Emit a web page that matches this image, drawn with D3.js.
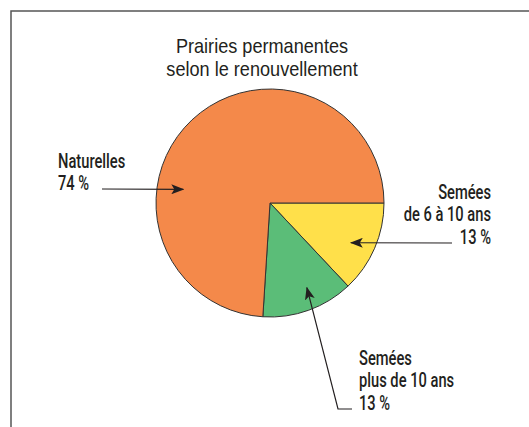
<!DOCTYPE html>
<html>
<head>
<meta charset="utf-8">
<script src="https://cdn.jsdelivr.net/npm/d3@7"></script>
<style>
  body { margin: 0; background: #fff; }
  svg { display: block; }
  .title { font-family: "Liberation Sans", Arial, sans-serif; font-size: 19.5px; fill: #231f20; }
  .label { font-family: Roboto, "Liberation Sans", Arial, sans-serif; font-weight: 500; font-size: 21px; fill: #231f20; }
</style>
</head>
<body>
<div id="chart"></div>
<script>
const categories = ['Semées de 6 à 10 ans', 'Semées plus de 10 ans', 'Naturelles']
const shares = [13, 13, 74]
const labelLines = [
    ['Semées', 'de 6 à 10 ans', '13 %'],
    ['Semées', 'plus de 10 ans', '13 %'],
    ['Naturelles', '74 %']
]
const titleLines = ['Prairies permanentes', 'selon le renouvellement']

document.addEventListener('DOMContentLoaded', () => {
    const width = 529
    const height = 427
    const cx = 270
    const cy = 203
    const radius = 114

    const svg = d3.select('#chart')
        .append('svg')
        .attr('width', width)
        .attr('height', height)

    // frame (open at the right and bottom, as in the print)
    svg.append('path')
        .attr('d', `M11,${height} V11 H${width}`)
        .attr('fill', 'none')
        .attr('stroke', '#555')
        .attr('stroke-width', 1.5)

    svg.append('g')
        .attr('transform', `translate(262, 0) scale(0.93, 1)`)
        .selectAll('text')
        .data(titleLines)
        .enter()
        .append('text')
        .attr('class', 'title')
        .attr('x', 0)
        .attr('y', (d, i) => 53 + i * 23)
        .attr('text-anchor', 'middle')
        .text(d => d)

    const colour = d3.scaleOrdinal()
        .domain(categories)
        .range(['#ffe04a', '#5bbd78', '#f4894a'])

    const pie = d3.pie()
        .sort(null)
        .startAngle(Math.PI / 2)
        .endAngle(Math.PI / 2 + 2 * Math.PI)
    const arcs = pie(shares)
    const arc = d3.arc().innerRadius(0).outerRadius(radius)

    const gPie = svg.append('g')
        .attr('transform', `translate(${cx}, ${cy})`)
    gPie.selectAll('path')
        .data(arcs)
        .enter()
        .append('path')
        .attr('d', arc)
        .attr('fill', (d, i) => colour(categories[i]))
        .attr('stroke', '#333')
        .attr('stroke-width', 1)
        .attr('stroke-linejoin', 'round')

    svg.append('defs')
        .append('marker')
        .attr('id', 'head')
        .attr('viewBox', '0 0 13 10')
        .attr('refX', 12)
        .attr('refY', 5)
        .attr('markerWidth', 13)
        .attr('markerHeight', 10)
        .attr('markerUnits', 'userSpaceOnUse')
        .attr('orient', 'auto')
        .append('path')
        .attr('d', 'M0,0 L13,5 L0,10 L3,5 Z')
        .attr('fill', '#231f20')

    // arrow tip: a point inside each slice, given as position within the slice and radius fraction
    const pointIn = (d, t, r) => {
        const a = d.startAngle + (d.endAngle - d.startAngle) * t
        return [cx + Math.sin(a) * radius * r, cy - Math.cos(a) * radius * r]
    }

    const callouts = [
        { tip: pointIn(arcs[0], 0.56, 0.79), from: [[452, 243]], anchor: 'end', x: 491, y: 199 },
        { tip: pointIn(arcs[1], 0.42, 0.81), from: [[352, 409], [338, 409]], anchor: 'start', x: 359, y: 365 },
        { tip: pointIn(arcs[2], 0.358, 0.77), from: [[102, 189]], anchor: 'start', x: 58, y: 168 }
    ]

    callouts.forEach((c, i) => {
        const pts = c.from.concat([c.tip])
        svg.append('path')
            .attr('d', d3.line()(pts))
            .attr('fill', 'none')
            .attr('stroke', '#231f20')
            .attr('stroke-width', 1.2)
            .attr('marker-end', 'url(#head)')

        const g = svg.append('g')
            .attr('transform', `translate(${c.x}, ${c.y}) scale(0.7, 1)`)
        g.selectAll('text')
            .data(labelLines[i])
            .enter()
            .append('text')
            .attr('class', 'label')
            .attr('x', 0)
            .attr('y', (d, j) => j * 22.5)
            .attr('text-anchor', c.anchor)
            .text(d => d)
    })
})
</script>
</body>
</html>
